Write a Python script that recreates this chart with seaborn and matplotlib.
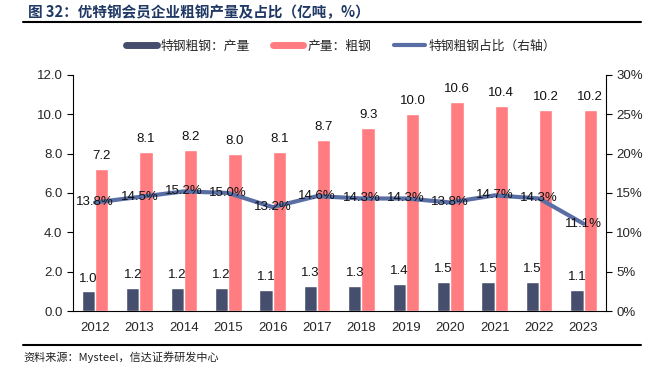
import matplotlib
matplotlib.use("Agg")
import matplotlib.pyplot as plt
import seaborn as sns
import pandas as pd
import numpy as np
from matplotlib.ticker import FuncFormatter, MultipleLocator, FixedLocator

years = ['2012', '2013', '2014', '2015', '2016', '2017', '2018', '2019', '2020', '2021', '2022', '2023']
special_steel = [1.0, 1.2, 1.2, 1.2, 1.1, 1.3, 1.3, 1.4, 1.5, 1.5, 1.5, 1.1]
crude_steel = [7.2, 8.1, 8.2, 8.0, 8.1, 8.7, 9.3, 10.0, 10.6, 10.4, 10.2, 10.2]
share_pct = [13.8, 14.5, 15.2, 15.0, 13.2, 14.6, 14.3, 14.3, 13.8, 14.7, 14.3, 11.1]

s1 = '特钢粗钢：产量'
s2 = '产量：粗钢'
s3 = '特钢粗钢占比（右轴）'

c_dark = '#464E6D'
c_pink = '#FF7C80'
c_line = '#5A6EA6'

sns.set_style("white")
# Arial-like digits, CJK falls back to Noto
plt.rcParams['font.family'] = ['Liberation Sans', 'Noto Sans CJK SC']
plt.rcParams['axes.unicode_minus'] = False
cjk = ['Noto Sans CJK SC', 'Liberation Sans']

df = pd.DataFrame({
    'year': years * 2,
    'value': special_steel + crude_steel,
    'series': [s1] * len(years) + [s2] * len(years),
})

fig = plt.figure(figsize=(6.62, 3.74), dpi=100)
ax = fig.add_axes([0.110, 0.168, 0.805, 0.632])

sns.barplot(data=df, x='year', y='value', hue='series', palette=[c_dark, c_pink],
            width=0.6, ax=ax, legend=False, saturation=1)
for cont in ax.containers:
    ax.bar_label(cont, fmt='%.1f', padding=5, fontsize=9.5, color='#111111')

ax.set_ylim(0, 12)
ax.yaxis.set_major_locator(MultipleLocator(2))
ax.yaxis.set_major_formatter(FuncFormatter(lambda v, p: f'{v:.1f}'))
ax.set_xlim(-0.5, len(years) - 0.5)
ax.set_xlabel('')
ax.set_ylabel('')
ax.tick_params(axis='x', length=0, labelsize=9.5, pad=8)
ax.xaxis.set_minor_locator(FixedLocator(np.arange(-0.5, len(years), 1)))
ax.tick_params(axis='x', which='minor', length=4, direction='out', color='black')
ax.tick_params(axis='y', length=4, direction='out', labelsize=9.5, color='black')
ax.spines['top'].set_visible(False)
ax.spines['left'].set_color('black')
ax.spines['bottom'].set_color('black')
ax.spines['right'].set_visible(False)

ax2 = ax.twinx()
line_df = pd.DataFrame({'year': years, 'share': share_pct})
sns.lineplot(data=line_df, x='year', y='share', color=c_line, linewidth=3, ax=ax2, sort=False)
for i, v in enumerate(share_pct):
    ax2.text(i, v, f'{v:.1f}%', ha='center', va='center', fontsize=9.5, color='#111111')
ax2.set_ylim(0, 30)
ax2.yaxis.set_major_locator(MultipleLocator(5))
ax2.yaxis.set_major_formatter(FuncFormatter(lambda v, p: f'{v:.0f}%'))
ax2.set_ylabel('')
ax2.tick_params(axis='y', length=4, direction='out', labelsize=9.5, color='black')
ax2.spines['top'].set_visible(False)
ax2.spines['left'].set_visible(False)
ax2.spines['bottom'].set_visible(False)
ax2.spines['right'].set_color('black')

handles = [
    plt.Line2D([], [], color=c_dark, linewidth=5),
    plt.Line2D([], [], color=c_pink, linewidth=5),
    plt.Line2D([], [], color=c_line, linewidth=3),
]
fig.legend(handles, [s1, s2, s3], loc='center', bbox_to_anchor=(0.515, 0.877), ncol=3,
           frameon=False, prop={'family': cjk, 'size': 9.2}, handlelength=2.4,
           columnspacing=1.8, handletextpad=0.3)

fig.text(0.042, 0.968, '图 32：优特钢会员企业粗钢产量及占比（亿吨，%）', fontsize=10.5,
         fontweight='bold', color='#1F3864', va='center', ha='left', family=cjk)
fig.add_artist(plt.Line2D([0.035, 0.968], [0.940, 0.940], color='black', linewidth=1.5))
fig.add_artist(plt.Line2D([0.035, 0.968], [0.078, 0.078], color='black', linewidth=1.5))
fig.text(0.035, 0.045, '资料来源：Mysteel，信达证券研发中心', fontsize=8, color='#222222',
         va='center', ha='left', fontstyle='italic', family=cjk)

fig.savefig('out.png', dpi=100)
